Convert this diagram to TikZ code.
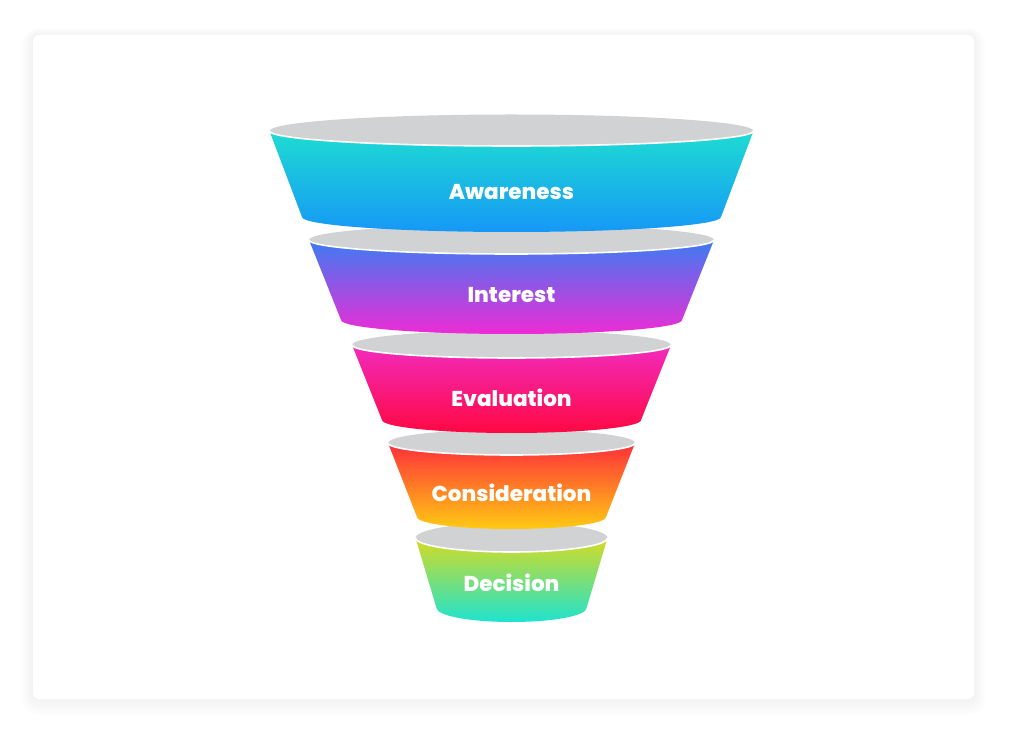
\documentclass[tikz,border=0pt]{standalone}
\usepackage{fontspec}
\setmainfont{Poppins}[BoldFont=* ExtraBold]
\definecolor{lidgray}{HTML}{D1D2D4}
\definecolor{aquatop}{HTML}{1EDCD2}
\definecolor{aquabot}{HTML}{1698F6}
\definecolor{bluetop}{HTML}{3C7CF2}
\definecolor{bluebot}{HTML}{EE2BD6}
\definecolor{pinktop}{HTML}{F22BBE}
\definecolor{pinkbot}{HTML}{FF0842}
\definecolor{redtop}{HTML}{FF2D3A}
\definecolor{redbot}{HTML}{FFCB12}
\definecolor{limetop}{HTML}{D6DB22}
\definecolor{limebot}{HTML}{1EE3CF}
\begin{document}
\begin{tikzpicture}[x=1pt,y=1pt,lid/.style={fill=lidgray},rim/.style={white,line width=1.6pt},
    stagetext/.style={text=white,font=\bfseries\fontsize{21.5}{26}\selectfont}]
  \useasboundingbox(0,0)rectangle(1024,734);
  % card with soft shadow
  \foreach \s in {1,...,12}
    \fill[black,opacity=0.005,rounded corners=6+\s](33-\s,35-1.4*\s)rectangle(974+\s,699+0.6*\s);
  \fill[white,rounded corners=6](33,35)rectangle(974,699);
  % funnel, bottom stage first
  \foreach \n/\yt/\rt/\yb/\rb/\ry/\ct/\cb/\txt/\ty in {
      decision/196/96/126/75/14/limetop/limebot/Decision/151,
      consideration/291/123.5/217/94.5/12/redtop/redbot/Consideration/241,
      evaluation/389/159.5/314/129.5/13/pinktop/pinkbot/Evaluation/336,
      interest/494/202.5/414/170.5/14/bluetop/bluebot/Interest/439,
      awareness/603/242/517/209.5/15/aquatop/aquabot/Awareness/542}{
    \fill[lid](511.5,\yt)ellipse[x radius=\rt,y radius=\ry+1.5];
    \shade[top color=\ct,bottom color=\cb](511.5-\rt,\yt)--(511.5-\rb,\yb)
      arc[start angle=180,end angle=360,x radius=\rb,y radius=\ry]--(511.5+\rt,\yt)
      arc[start angle=0,end angle=-180,x radius=\rt,y radius=\ry]--cycle;
    \draw[rim](511.5+\rt,\yt)arc[start angle=0,end angle=-180,x radius=\rt,y radius=\ry];
    \node[stagetext](\n)at(511.5,\ty){\txt};
  }
\end{tikzpicture}
\end{document}
